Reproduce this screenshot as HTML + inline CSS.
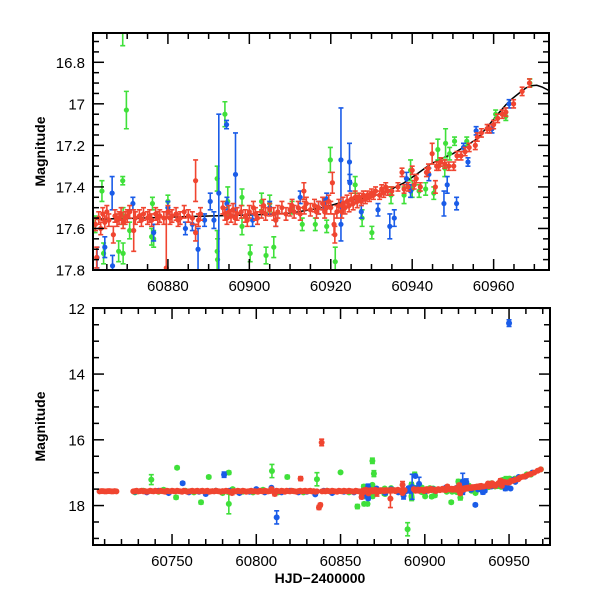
<!DOCTYPE html>
<html><head><meta charset="utf-8"><style>
html,body{margin:0;padding:0;background:#fff;width:600px;height:600px;overflow:hidden}
svg{display:block}
text{font-family:"Liberation Sans","DejaVu Sans",sans-serif;fill:#000}
</style></head><body>
<svg id="chart" width="600" height="600" viewBox="0 0 600 600" xmlns="http://www.w3.org/2000/svg"></svg>
<script>
// ---- data: [HJD-2400000, magnitude, error] ----
const redData = [
[60707,17.57,.02],[60708,17.56,.02],[60709,17.56,.02],[60710,17.57,.02],[60711,17.57,.02],[60712,17.56,.02],[60713,17.56,.02],[60714,17.57,.02],[60715,17.57,.02],[60716,17.56,.02],[60717,17.57,.02],
[60727,17.57,.02],[60728,17.56,.02],[60729,17.55,.02],[60730,17.57,.02],[60731,17.56,.02],[60732,17.55,.02],[60733,17.57,.02],[60734,17.56,.02],[60735,17.58,.02],[60736,17.57,.02],[60737,17.55,.02],[60738,17.56,.02],[60739,17.57,.02],[60740,17.55,.02],[60741,17.56,.02],[60742,17.57,.02],[60743,17.55,.02],[60744,17.56,.02],[60745,17.57,.02],[60746,17.58,.02],[60747,17.55,.02],[60748,17.56,.02],[60749,17.57,.02],[60750,17.55,.02],[60751,17.56,.02],[60752,17.57,.02],[60753,17.55,.02],[60754,17.56,.02],[60755,17.57,.02],[60756,17.58,.02],[60757,17.55,.02],[60758,17.56,.02],[60759,17.58,.02],[60760,17.57,.02],[60761,17.56,.02],[60762,17.55,.02],[60763,17.57,.02],[60764,17.56,.02],[60765,17.55,.02],[60766,17.57,.02],[60767,17.56,.02],[60768,17.55,.02],[60769,17.57,.02],[60770,17.56,.02],[60771,17.55,.02],[60772,17.58,.02],[60773,17.57,.02],[60774,17.56,.02],[60775,17.57,.02],[60776,17.55,.02],[60777,17.56,.02],[60778,17.57,.02],[60779,17.58,.02],[60780,17.56,.02],[60781,17.57,.02],[60782,17.55,.02],[60783,17.56,.02],[60784,17.58,.02],[60785.6,17.62,.05],[60786,17.57,.02],[60787,17.56,.02],[60788,17.57,.02],[60789,17.55,.02],[60790,17.56,.02],[60791,17.57,.02],[60792,17.55,.02],[60793,17.56,.02],[60794,17.58,.02],[60795,17.57,.02],[60796,17.56,.02],[60797,17.55,.02],[60798,17.57,.02],[60799,17.56,.02],[60800,17.57,.02],[60801,17.58,.02],[60802,17.55,.02],[60803,17.56,.02],[60804,17.57,.02],[60805,17.55,.02],[60806,17.56,.02],[60807,17.57,.02],[60808,17.56,.02],[60809,17.5,.05],[60810,17.57,.02],[60811,17.65,.05],[60812,17.55,.02],[60813,17.56,.02],[60814,17.57,.02],[60815,17.55,.02],[60816,17.56,.02],[60817,17.58,.02],[60818,17.55,.02],[60819,17.56,.02],[60820,17.57,.02],[60821,17.55,.02],[60822,17.56,.02],[60823,17.57,.02],[60824,17.58,.02],[60825,17.56,.02],[60826.3,17.18,.06],[60826,17.55,.02],[60827,17.57,.02],[60828,17.56,.02],[60829,17.55,.02],[60830,17.57,.02],[60831,17.56,.02],[60832,17.55,.02],[60833,17.57,.02],[60834,17.56,.02],[60835,17.58,.02],[60836,17.57,.02],[60837.2,18.06,.06],[60838,17.98,.05],[60838.8,16.08,.1],[60839,17.57,.02],[60840,17.56,.02],[60841,17.57,.02],[60842,17.55,.02],[60843,17.56,.02],[60844,17.57,.02],[60845,17.55,.02],[60846,17.56,.02],[60847,17.57,.02],[60848,17.58,.02],[60849,17.55,.02],[60850,17.56,.02],[60851,17.57,.02],[60852,17.55,.02],[60853,17.56,.02],[60854,17.57,.02],[60855,17.55,.02],[60856,17.56,.02],[60857,17.57,.02],[60858,17.58,.02],[60859,17.55,.02],[60860,17.56,.02],[60861,17.57,.02],
[60862.2,17.58,.03],[60862.5,17.74,.05],[60863,17.55,.03],[60863.5,17.6,.03],[60864,17.53,.03],[60864.5,17.57,.03],[60865,17.52,.03],[60865.5,17.56,.03],[60866.6,17.63,.04],[60867,17.54,.03],[60867.5,17.56,.03],[60868,17.55,.03],[60868.5,17.53,.03],[60869,17.57,.03],[60869.5,17.55,.03],[60870,17.54,.03],[60870.6,17.52,.03],[60871.6,17.61,.1],[60872,17.55,.03],[60873,17.54,.03],[60873.5,17.56,.03],[60874,17.53,.03],[60875,17.55,.03],[60875.5,17.54,.03],[60876,17.56,.03],[60877,17.53,.03],[60877.5,17.55,.03],[60878,17.54,.03],[60879,17.55,.03],[60879.6,17.79,.27],[60880,17.52,.03],[60880.5,17.55,.03],[60881,17.54,.03],[60882,17.53,.03],[60882.5,17.56,.03],[60883,17.55,.03],[60884,17.52,.03],[60885,17.54,.03],[60886,17.55,.03],[60886.8,17.37,.1],[60886.8,17.62,.04],[60887.5,17.56,.03],[60888,17.53,.03],
[60893.5,17.5,.03],[60894,17.53,.03],[60894.5,17.55,.03],[60895,17.52,.03],[60895.5,17.54,.03],[60896,17.51,.03],[60896.5,17.55,.03],[60897,17.53,.03],[60898,17.52,.03],[60899,17.54,.03],[60899.5,17.56,.03],[60900,17.52,.03],[60901,17.5,.03],[60901.5,17.53,.03],[60902,17.55,.03],[60903,17.52,.03],[60903.5,17.49,.03],[60904,17.53,.03],[60905,17.51,.03],[60906,17.53,.03],[60906.5,17.56,.03],[60907,17.52,.03],[60908,17.5,.03],[60909,17.53,.03],[60910,17.51,.03],[60910.5,17.49,.03],[60911,17.52,.03],[60912,17.5,.03],[60912.5,17.53,.03],[60913.4,17.42,.04],[60913.5,17.5,.03],[60914,17.48,.03],[60915,17.51,.03],[60916,17.49,.03],[60916.5,17.52,.03],[60917,17.5,.03],[60918,17.48,.03],[60918.5,17.52,.03],[60919,17.5,.03],[60919.5,17.47,.03],[60920,17.5,.03],[60920.4,17.38,.05],[60920.8,17.58,.05],[60921,17.63,.04],[60921.5,17.52,.03],[60922,17.49,.03],[60922.7,17.52,.03],[60923,17.48,.03],[60923.5,17.5,.03],[60924,17.47,.03],[60924.5,17.49,.03],[60925,17.46,.03],[60925.5,17.48,.03],[60926,17.45,.03],[60926.5,17.47,.03],[60927,17.45,.02],[60927.5,17.47,.02],[60928,17.44,.02],[60928.5,17.46,.02],[60929,17.44,.02],[60929.5,17.45,.02],[60930,17.43,.02],[60930.5,17.44,.02],[60931,17.42,.02],[60932,17.44,.02],[60932.5,17.41,.02],[60933,17.43,.02],[60933.5,17.4,.02],[60934,17.42,.02],[60935,17.42,.02],[60936.5,17.4,.02],[60937.5,17.33,.02],[60938,17.41,.02],[60939,17.4,.02],[60940,17.32,.02],[60940.5,17.39,.02],[60941,17.36,.02],[60942,17.4,.02],[60943.5,17.33,.02],[60944,17.31,.02],[60944.9,17.24,.05],[60945.7,17.4,.03],[60946,17.3,.02],[60946.5,17.3,.02],[60947,17.28,.02],[60948,17.29,.02],[60949,17.3,.02],[60950.2,17.3,.02],[60951,17.25,.02],[60952,17.25,.02],[60953,17.23,.02],[60954,17.21,.02],[60955.5,17.2,.02],[60956,17.16,.02],[60957,17.14,.02],[60958.4,17.12,.02],[60959,17.12,.02],[60960,17.1,.02],[60961,17.07,.02],[60962.1,17.05,.02],[60963,17.04,.02],[60964.9,17.0,.02],[60967,16.94,.02],[60968.8,16.9,.02]
];
const blueData = [
[60728,17.58,.03],[60735,17.6,.03],[60742,17.55,.03],[60748,17.62,.03],[60756.3,17.32,.04],[60760,17.6,.03],[60766,17.58,.03],[60770,17.65,.03],[60776,17.55,.03],[60780.9,17.06,.08],[60784,17.55,.03],[60790,17.62,.03],[60796,17.58,.03],[60800,17.5,.03],[60805,17.6,.03],[60809,17.46,.03],[60812.1,18.36,.2],[60815,17.6,.03],[60820,17.55,.03],[60825,17.6,.03],[60830,17.58,.03],[60835,17.66,.03],[60840,17.55,.03],[60845,17.62,.03],[60852,17.58,.03],[60858,17.6,.03],
[60862.6,17.74,.05],[60864.5,17.69,.05],[60866.3,17.43,.08],[60866.4,17.78,.05],[60871.4,17.48,.03],[60876.5,17.62,.04],[60880,17.5,.03],[60884.3,17.6,.03],[60886,17.58,.03],[60887.4,17.7,.1],[60889,17.56,.03],[60890.4,17.47,.04],[60891.3,17.56,.04],[60892.5,17.43,.38],[60894.4,17.1,.02],[60894.5,17.48,.03],[60896.6,17.34,.2],[60900.8,17.56,.03],[60905,17.5,.03],[60906.5,17.56,.03],[60912.5,17.45,.03],[60917,17.5,.03],[60918.3,17.48,.03],[60919,17.46,.03],[60922.5,17.27,.25],[60922.5,17.58,.08],[60924.6,17.28,.09],[60924.7,17.38,.04],[60927.5,17.52,.03],[60930,17.98,.04],[60931.6,17.51,.03],[60934.5,17.59,.06],[60935.6,17.55,.04],[60938.6,17.36,.03],[60939.6,17.42,.03],[60944.1,17.34,.03],[60947.8,17.48,.06],[60948.6,17.39,.04],[60950,12.45,.1],[60950.9,17.48,.03],[60952.6,17.21,.02],[60953.7,17.28,.02],[60955.7,17.13,.02],[60959.6,17.12,.02],[60963.8,17.0,.02]
];
const greenData = [
[60728,17.6,.04],[60733,17.55,.04],[60737.7,17.21,.15],[60742,17.58,.04],[60745,17.52,.04],[60752.4,17.75,.05],[60753,16.85,.04],[60758,17.55,.04],[60763,17.6,.04],[60767.2,17.9,.05],[60771.8,17.13,.04],[60776,17.55,.04],[60780,17.62,.04],[60783.7,17.95,.3],[60783.7,17.0,.05],[60786,17.5,.04],[60792,17.58,.04],[60798,17.6,.04],[60804,17.52,.04],[60809.3,16.95,.2],[60813,17.6,.04],[60818.4,17.13,.05],[60822,17.56,.04],[60828,17.6,.04],[60836,17.2,.2],[60842,17.55,.04],[60850,16.99,.03],[60855,17.6,.04],[60860,18.03,.06],
[60862.1,17.58,.04],[60863.8,17.42,.05],[60864,17.95,.05],[60864.2,17.72,.05],[60866,17.95,.05],[60867.9,17.71,.05],[60868.9,16.64,.08],[60868.9,17.37,.02],[60869,17.54,.04],[60869,17.72,.05],[60869.8,17.03,.09],[60870.6,17.61,.04],[60876,17.64,.04],[60876.2,17.48,.03],[60876.5,17.65,.04],[60880,17.47,.03],[60889.8,18.72,.2],[60892.1,17.36,.06],[60892.1,17.71,.1],[60892.2,17.75,.1],[60894,17.05,.06],[60894.7,17.47,.07],[60898.2,17.45,.04],[60898.2,17.59,.04],[60900.2,17.72,.04],[60903,17.47,.04],[60904.1,17.73,.04],[60905,17.48,.04],[60906,17.69,.05],[60910.5,17.5,.03],[60913,17.58,.03],[60915.7,17.9,.04],[60916.2,17.58,.03],[60919,17.59,.03],[60919.9,17.27,.06],[60921.1,17.76,.07],[60926,17.39,.04],[60927.7,17.55,.04],[60930.1,17.62,.03],[60934.8,17.44,.04],[60938,17.44,.04],[60939.6,17.32,.05],[60940,17.41,.04],[60941.7,17.42,.03],[60943.3,17.41,.03],[60945.3,17.43,.03],[60946.3,17.22,.05],[60948,17.31,.04],[60948.2,17.19,.07],[60949.2,17.24,.03],[60950.4,17.18,.02],[60953.4,17.18,.02],[60960.5,17.05,.02],[60963,17.06,.02],[60968.9,16.9,.02]
];
const fitDays = [60862,60870,60880,60890,60900,60905,60910,60915,60919,60922,60926,60929,60932,60935,60938,60941,60944.5,60947,60950,60953,60956,60958.5,60961,60963,60964.5,60966.5,60968,60969.5,60970.6,60972,60974];
const fitMags = [17.555,17.552,17.546,17.54,17.535,17.532,17.526,17.51,17.495,17.478,17.46,17.45,17.436,17.41,17.38,17.34,17.29,17.265,17.24,17.205,17.168,17.11,17.05,17.005,16.976,16.945,16.923,16.912,16.911,16.92,16.94];
const topXTicks = [60880,60900,60920,60940,60960];
const topYTicks = [16.8,17,17.2,17.4,17.6,17.8];
const topYLabels = ["16.8","17","17.2","17.4","17.6","17.8"];
const botXTicks = [60750,60800,60850,60900,60950];
const botYTicks = [12,14,16,18];
const botYLabels = ["12","14","16","18"];

const NS = "http://www.w3.org/2000/svg";
const svg = document.getElementById('chart');
function mk(tag, attrs, parent){
  const e = document.createElementNS(NS, tag);
  for (const k in attrs) e.setAttribute(k, attrs[k]);
  (parent||svg).appendChild(e);
  return e;
}
const COLORS = {green:'#3fe03a', blue:'#1a5ce8', red:'#f04530'};

function panel(cfg){
  const {name, L, R, T, B, x0, x1, y0, y1} = cfg;
  const sx = d => L + (d - x0) / (x1 - x0) * (R - L);
  const sy = m => T + (m - y0) / (y1 - y0) * (B - T);
  const g = mk('g', {});
  
  
  const defs = mk('defs', {}, g);
  const cp = mk('clipPath', {id: name + '-clip'}, defs);
  mk('rect', {x: L, y: T, width: R - L, height: B - T}, cp);
  const plot = mk('g', {'clip-path': 'url(#' + name + '-clip)'}, g);
  
  

  if (cfg.fit) {
    let d = '';
    fitDays.forEach((day, i) => { d += (i ? 'L' : 'M') + sx(day).toFixed(1) + ' ' + sy(fitMags[i]).toFixed(1); });
    const p = mk('path', {d: d, fill: 'none', stroke: '#000', 'stroke-width': 1.5}, plot);
    
    
  }
  const series = [['green', greenData], ['blue', blueData], ['red', redData]];
  series.forEach(([col, arr]) => {
    const sg = mk('g', {stroke: COLORS[col], fill: COLORS[col], 'stroke-width': cfg.lw}, plot);
    
    
    arr.forEach(([d, m, e]) => {
      const x = sx(d), y = sy(m), ya = sy(m - e), yb = sy(m + e), c = cfg.cap;
      const pt = mk('g', {}, sg);
      
      
      mk('path', {d: `M${x} ${ya}L${x} ${yb}M${x-c} ${ya}L${x+c} ${ya}M${x-c} ${yb}L${x+c} ${yb}`, fill: 'none'}, pt);
      mk('circle', {cx: x, cy: y, r: cfg.r, stroke: 'none'}, pt);
    });
  });

  const tk = mk('g', {stroke: '#000', 'stroke-width': 1.5}, g);
  
  
  for (let v = Math.ceil(x0 / cfg.xMinor) * cfg.xMinor; v <= x1; v += cfg.xMinor) {
    const major = Math.abs(v / cfg.xMajor - Math.round(v / cfg.xMajor)) < 1e-6;
    const len = major ? 11 : 6, x = sx(v);
    mk('line', {x1: x, y1: B, x2: x, y2: B - len}, tk);
    mk('line', {x1: x, y1: T, x2: x, y2: T + len}, tk);
  }
  const ys = Math.ceil(Math.round(y0 / cfg.yMinor * 1000) / 1000);
  for (let i = ys; i * cfg.yMinor <= y1 + 1e-9; i++) {
    const v = i * cfg.yMinor;
    const major = Math.abs(v / cfg.yMajor - Math.round(v / cfg.yMajor)) < 1e-6;
    const len = major ? 11 : 6, y = sy(v);
    mk('line', {x1: L, y1: y, x2: L + len, y2: y}, tk);
    mk('line', {x1: R, y1: y, x2: R - len, y2: y}, tk);
  }
  const fr = mk('rect', {x: L, y: T, width: R - L, height: B - T, fill: 'none', stroke: '#000', 'stroke-width': 2}, g);
  
  

  cfg.xTicks.forEach(v => {
    const t = mk('text', {x: sx(v), y: B + 21, 'text-anchor': 'middle', 'font-size': 15}, g);
    t.textContent = String(v);
    
    
  });
  cfg.yTicks.forEach((v, i) => {
    const t = mk('text', {x: L - 8, y: sy(v) + 5.5, 'text-anchor': 'end', 'font-size': 15}, g);
    t.textContent = cfg.yLabels[i];
    
    
  });
  const yt = mk('text', {x: 0, y: 0, 'text-anchor': 'middle', 'font-size': 14, 'font-weight': 'bold',
    transform: `translate(45 ${(T + B) / 2}) rotate(-90)`}, g);
  yt.textContent = 'Magnitude';
  
  
}

panel({name: 'top', L: 93, R: 549, T: 33, B: 270, x0: 60861.6, x1: 60973.6, y0: 16.659, y1: 17.8,
  xMajor: 20, xMinor: 5, yMajor: 0.2, yMinor: 0.05, xTicks: topXTicks, yTicks: topYTicks, yLabels: topYLabels,
  r: 2.6, cap: 2.5, lw: 1.6, fit: true});
panel({name: 'bottom', L: 93, R: 550, T: 308, B: 545, x0: 60703.1, x1: 60974.3, y0: 11.99, y1: 19.2,
  xMajor: 50, xMinor: 10, yMajor: 2, yMinor: 0.5, xTicks: botXTicks, yTicks: botYTicks, yLabels: botYLabels,
  r: 3, cap: 2.5, lw: 1.6, fit: false});

const xt = mk('text', {x: 320, y: 583, 'text-anchor': 'middle', 'font-size': 14, 'font-weight': 'bold'});
xt.textContent = 'HJD\u22122400000';


</script>
</body></html>
